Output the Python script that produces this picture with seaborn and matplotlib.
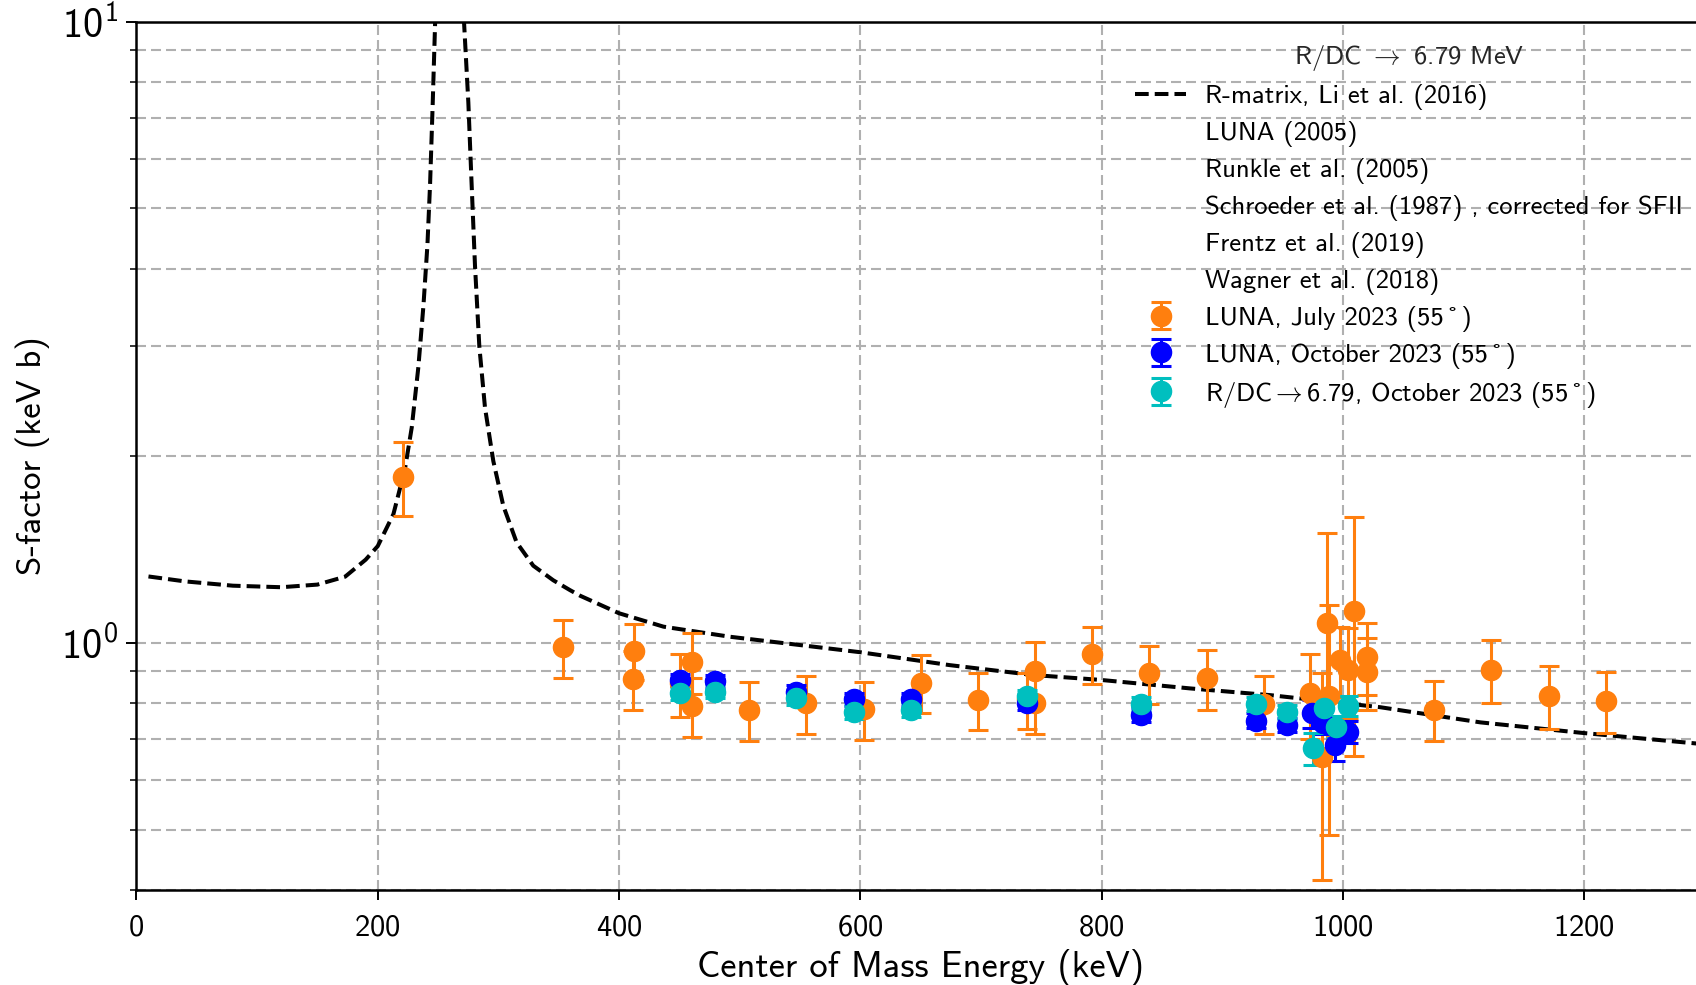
import numpy as np
import matplotlib
matplotlib.use("Agg")
import matplotlib.pyplot as plt
import matplotlib.ticker as mticker
import seaborn as sns

# R-matrix S-factor curve (Li et al. 2016), centre-of-mass energy in keV
rmatrix_E = [10, 40, 80, 120, 150, 173, 190, 200, 213, 222.6, 228.2, 233.7, 237.9,
             241.2, 243.4, 245.6, 247.6, 259, 271.5, 275.1, 277.8, 280.6, 284.2,
             288.9, 295.8, 304.1, 315.1, 328.9, 345.5, 359.3, 367.7, 400, 436.8,
             492, 550, 600, 674, 743, 799, 873, 940, 1031, 1114, 1197, 1300]
rmatrix_S = [1.278, 1.255, 1.235, 1.228, 1.24, 1.277, 1.36, 1.43, 1.61, 1.905, 2.22,
             2.78, 3.49, 4.37, 5.48, 7.41, 10.0, 40.0, 10.0, 7.41, 5.48, 4.05, 3.0,
             2.39, 1.96, 1.66, 1.45, 1.33, 1.26, 1.215, 1.19, 1.115, 1.061, 1.022,
             0.991, 0.965, 0.92, 0.887, 0.871, 0.844, 0.823, 0.787, 0.744, 0.716, 0.686]

# LUNA, July 2023 (55 deg)
july_E = [221.2, 353.9, 411.8, 412.7, 450.6, 460.8, 460.8, 508.0, 555.0, 603.3, 650.3,
          697.8, 737.9, 744.8, 744.8, 791.8, 839.6, 887.1, 934.9, 972.7, 982.4, 986.6,
          988.0, 997.6, 1004.5, 1009.4, 1019.7, 1019.7, 1075.8, 1122.8, 1170.3, 1217.8]
july_S = [1.85, 0.983, 0.874, 0.971, 0.86, 0.932, 0.791, 0.779, 0.798, 0.781, 0.862,
          0.809, 0.81, 0.901, 0.80, 0.959, 0.892, 0.876, 0.797, 0.829, 0.655, 1.074,
          0.82, 0.938, 0.904, 1.126, 0.949, 0.898, 0.78, 0.903, 0.821, 0.806]
july_err = [0.25, 0.105, 0.095, 0.10, 0.10, 0.105, 0.085, 0.084, 0.085, 0.083, 0.093,
            0.085, 0.085, 0.10, 0.086, 0.10, 0.096, 0.096, 0.085, 0.13, 0.24, 0.43,
            0.33, 0.12, 0.15, 0.47, 0.125, 0.12, 0.086, 0.105, 0.095, 0.09]

# LUNA, October 2023 (55 deg)
oct_E = [450.6, 479.6, 546.5, 594.8, 642.0, 737.9, 832.7, 928.0, 953.4, 974.1, 983.8,
         993.4, 1004.5]
oct_S = [0.871, 0.866, 0.834, 0.811, 0.811, 0.798, 0.765, 0.749, 0.737, 0.769, 0.742,
         0.684, 0.719]
oct_err = [0.02, 0.02, 0.02, 0.02, 0.02, 0.02, 0.02, 0.02, 0.02, 0.04, 0.03, 0.04, 0.03]

# R/DC -> 6.79 MeV, October 2023 (55 deg)
rdc_E = [450.6, 479.6, 546.5, 594.8, 642.0, 737.9, 832.7, 928.0, 953.4, 975.5, 984.5,
         994.4, 1003.9]
rdc_S = [0.829, 0.834, 0.814, 0.774, 0.779, 0.819, 0.797, 0.797, 0.774, 0.676, 0.784,
         0.731, 0.791]
rdc_err = [0.02, 0.02, 0.02, 0.02, 0.02, 0.02, 0.02, 0.02, 0.02, 0.04, 0.03, 0.03, 0.03]

# reference data sets listed in the legend only
other_labels = ["LUNA (2005)", "Runkle et al. (2005)",
                "Schroeder et al. (1987) , corrected for SFII",
                "Frentz et al. (2019)", "Wagner et al. (2018)"]

sns.set_theme(style="ticks")
plt.rcParams["font.family"] = ["cmss10", "DejaVu Sans"]
plt.rcParams["mathtext.fontset"] = "custom"
plt.rcParams["mathtext.rm"] = "cmss10"
plt.rcParams["mathtext.sf"] = "cmss10"
plt.rcParams["mathtext.it"] = "cmss10"
plt.rcParams["mathtext.bf"] = "cmss10"
plt.rcParams["axes.formatter.use_mathtext"] = True
plt.rcParams["axes.unicode_minus"] = False

W, H = 1696, 985
fig = plt.figure(figsize=(W / 100, H / 100), dpi=100)
left, right, top, bottom = 136.4, 1705.0, 21.5, 889.8
ax = fig.add_axes([left / W, (H - bottom) / H, (right - left) / W, (bottom - top) / H])

ax.set_yscale("log")
ax.set_xlim(0, 1300)
ax.set_ylim(0.4, 10)

grid_kw = dict(color="#b0b0b0", linewidth=1.5, linestyle=(0, (4.8, 2.4)))
ax.grid(True, which="major", axis="both", **grid_kw)
ax.grid(True, which="minor", axis="y", **grid_kw)
ax.set_axisbelow(True)

sns.lineplot(x=rmatrix_E, y=rmatrix_S, ax=ax, color="black", linewidth=2.9,
             linestyle=(0, (3.4, 1.5)), label="R-matrix, Li et al. (2016)", legend=False)
line_handle = ax.get_lines()[-1]

empty_handles = [ax.plot([], [], linestyle="none", marker=None, label=lab)[0]
                 for lab in other_labels]

# ring glyph of the Computer Modern sans font, used as the degree sign
deg = "\u00ba"
lab_july = f"LUNA, July 2023 (55{deg})"
lab_oct = f"LUNA, October 2023 (55{deg})"
lab_rdc = f"R/DC$\\rightarrow$6.79, October 2023 (55{deg})"

eb_kw = dict(fmt="o", markersize=14.5, elinewidth=2.2, capsize=7, capthick=2.2)
h_july = ax.errorbar(july_E, july_S, yerr=july_err, color="#ff7f0e", label=lab_july, **eb_kw)
h_oct = ax.errorbar(oct_E, oct_S, yerr=oct_err, color="#0000ff", label=lab_oct, **eb_kw)
h_rdc = ax.errorbar(rdc_E, rdc_S, yerr=rdc_err, color="#00bfbf", label=lab_rdc, **eb_kw)

ax.set_xticks([0, 200, 400, 600, 800, 1000, 1200])
ax.yaxis.set_minor_formatter(mticker.NullFormatter())
ax.tick_params(axis="both", which="major", direction="out", length=7, width=1.4,
               colors="black")
ax.tick_params(axis="x", which="major", labelsize=22, pad=11)
ax.tick_params(axis="y", which="major", labelsize=29, pad=6)
ax.tick_params(axis="y", which="minor", direction="out", length=4.2, width=1.1,
               colors="black")
ax.tick_params(axis="x", which="minor", bottom=False)
for side in ["left", "bottom", "top", "right"]:
    ax.spines[side].set_color("black")
    ax.spines[side].set_linewidth(1.8)

ax.set_xlabel("Center of Mass Energy (keV)", fontsize=26.3, color="black", labelpad=5)
ax.set_ylabel("S-factor (keV b)", fontsize=25, color="black", labelpad=8)

handles = [line_handle] + empty_handles + [h_july, h_oct, h_rdc]
labels = ["R-matrix, Li et al. (2016)"] + other_labels + [lab_july, lab_oct, lab_rdc]
leg = ax.legend(handles, labels, title="R/DC $\\rightarrow$ 6.79 MeV",
                loc="upper left", bbox_to_anchor=(1122 / W, (H - 30) / H),
                bbox_transform=fig.transFigure, frameon=False, fontsize=19.2,
                title_fontsize=19.2, borderpad=0, handlelength=1.9,
                handletextpad=0.73, labelspacing=0.41)
for t in leg.get_texts():
    t.set_color("black")

fig.savefig("out.png", dpi=100)
